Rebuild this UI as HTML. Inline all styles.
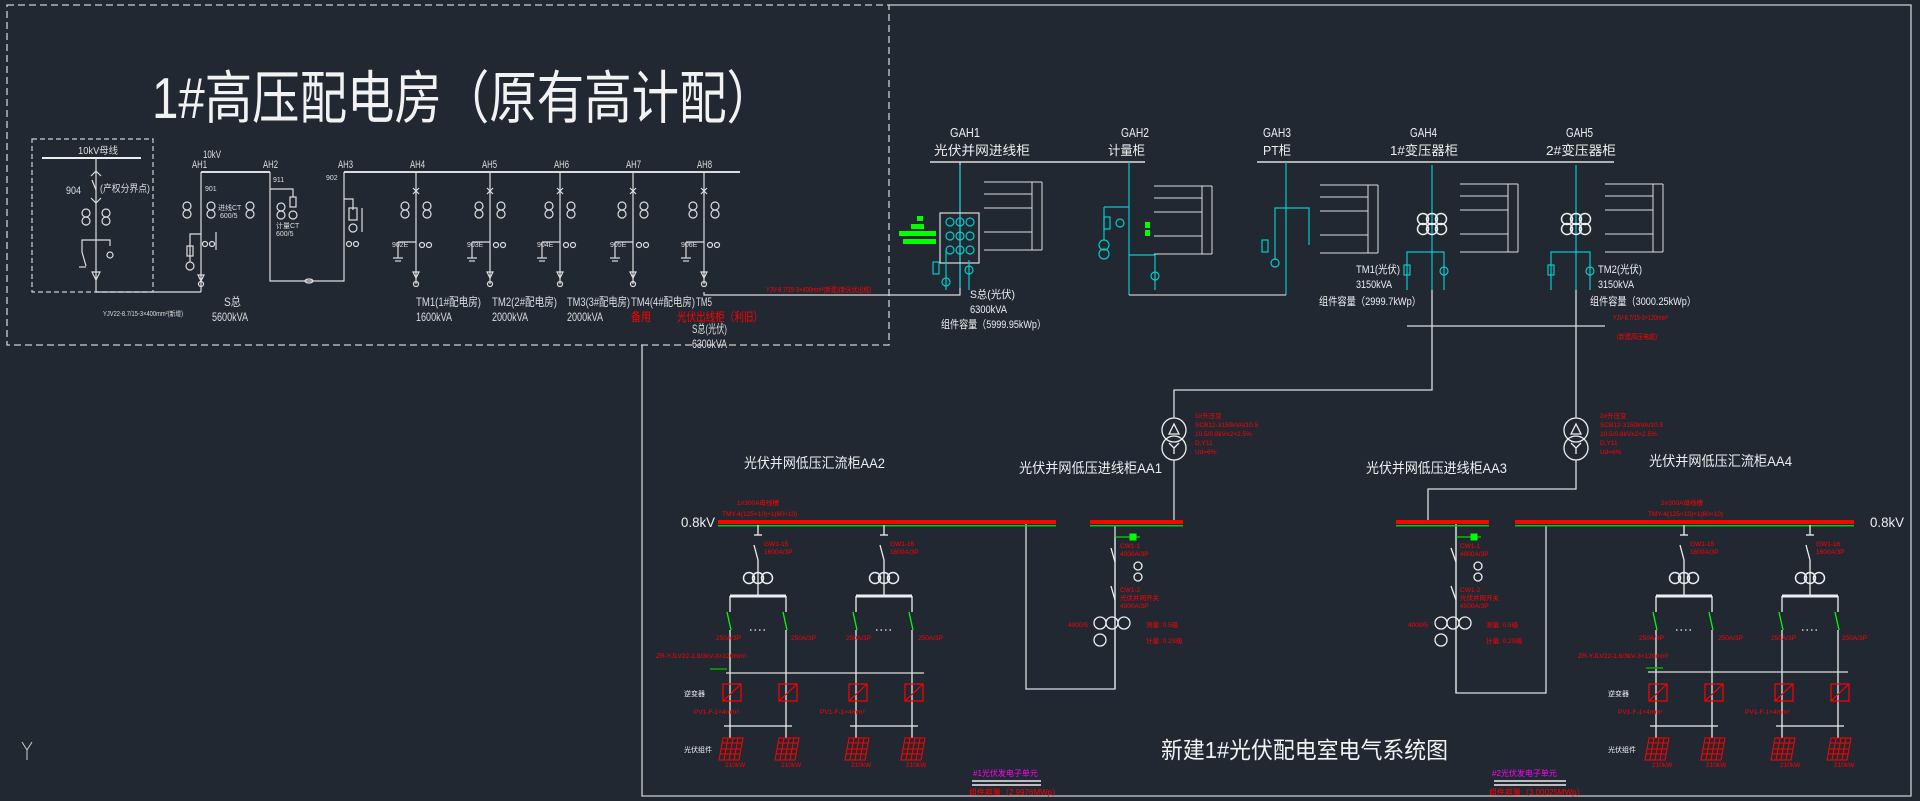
<!DOCTYPE html>
<html><head><meta charset="utf-8"><style>
html,body{margin:0;padding:0;background:#222831;}
svg{display:block}
text{font-family:"Liberation Sans","Noto Sans CJK SC",sans-serif;}
</style></head><body>
<svg width="1920" height="801" viewBox="0 0 1920 801" xmlns="http://www.w3.org/2000/svg">
<defs>
<g id="ct"><circle cx="0" cy="0" r="4" fill="none" stroke="#ddd" stroke-width="1.2"/><circle cx="0" cy="8" r="4" fill="none" stroke="#ddd" stroke-width="1.2"/></g>
<g id="ct3"><circle cx="-9" cy="0" r="5.5" fill="none" stroke="#eee" stroke-width="1.5"/><circle cx="0" cy="0" r="5.5" fill="none" stroke="#eee" stroke-width="1.5"/><circle cx="9" cy="0" r="5.5" fill="none" stroke="#eee" stroke-width="1.5"/></g>
<g id="panel" stroke="#f00" fill="none" stroke-width="1"><polygon points="-7,0 13,0 9,22 -11,22"/><line x1="-8" y1="5" x2="12" y2="5"/><line x1="-9" y1="11" x2="11" y2="11"/><line x1="-10" y1="16" x2="10" y2="16"/><line x1="-2" y1="0" x2="-6" y2="22"/><line x1="3" y1="0" x2="-1" y2="22"/><line x1="8" y1="0" x2="4" y2="22"/></g>
<g id="acdc" stroke="#f00" fill="none" stroke-width="1.2"><rect x="-9" y="0" width="18" height="17"/><line x1="-9" y1="17" x2="9" y2="0"/></g>
<g id="hvf" stroke="#ddd" fill="none" stroke-width="1.2">
 <line x1="0" y1="172" x2="0" y2="284"/>
 <line x1="-3" y1="188" x2="3" y2="194"/><line x1="3" y1="188" x2="-3" y2="194"/>
 <use href="#ct" x="-11" y="206"/><use href="#ct" x="11" y="206"/>
 <line x1="-18" y1="242" x2="0" y2="242"/><line x1="-18" y1="242" x2="-18" y2="258"/><line x1="-23" y1="258" x2="-13" y2="258"/><line x1="-21" y1="261" x2="-15" y2="261"/>
 <circle cx="6" cy="245" r="2.5"/><circle cx="13" cy="245" r="2.5"/>
 <path d="M-3,272 L3,272 L0,278 Z"/><circle cx="0" cy="284" r="2.5"/>
</g>
<g id="lvcol" stroke="#eee" fill="none" stroke-width="1.3">
 <line x1="0" y1="525" x2="0" y2="535"/><line x1="-4" y1="535" x2="4" y2="535"/>
 <line x1="-4" y1="545" x2="0" y2="560"/><line x1="0" y1="560" x2="0" y2="596"/>
 <use href="#ct3" x="0" y="578"/>
 <line x1="-28" y1="596" x2="28" y2="596" stroke-width="3"/>
 <line x1="-28" y1="596" x2="-28" y2="612"/><line x1="28" y1="596" x2="28" y2="612"/>
 <line x1="-31" y1="612" x2="-27" y2="630" stroke="#0f0"/><line x1="25" y1="612" x2="29" y2="630" stroke="#0f0"/>
 <line x1="-28" y1="630" x2="-28" y2="738"/><line x1="28" y1="630" x2="28" y2="738"/>
 <line x1="-8" y1="630" x2="10" y2="630" stroke-dasharray="1.5,3"/>
 <use href="#acdc" x="-26" y="684"/><use href="#acdc" x="30" y="684"/>
 <line x1="-34" y1="726" x2="34" y2="726"/>
 <use href="#panel" x="-28" y="738"/><use href="#panel" x="28" y="738"/>
</g>
<g id="tx" stroke="#eee" fill="none" stroke-width="1.3"><circle cx="0" cy="0" r="12"/><circle cx="0" cy="18" r="12"/><path d="M-5,4 L0,-6 L5,4 Z"/><path d="M0,18 L0,24 M0,18 L-5,13 M0,18 L5,13"/></g>
<g id="tbl" stroke="#ddd" fill="none" stroke-width="1"><line x1="0" y1="0" x2="58" y2="0"/><line x1="58" y1="0" x2="58" y2="68"/><line x1="48" y1="0" x2="48" y2="68"/><line x1="0" y1="68" x2="58" y2="68"/><line x1="0" y1="12" x2="48" y2="12"/><line x1="0" y1="26" x2="48" y2="26"/><line x1="0" y1="50" x2="48" y2="50"/></g>
</defs>

<rect x="7" y="5" width="882" height="340" fill="none" stroke="#cfcfcf" stroke-width="1.3" stroke-dasharray="7,4"/>
<polyline points="889,5 1911,5 1911,796 642,796 642,345" fill="none" stroke="#cfcfcf" stroke-width="1.3"/>

<text x="152" y="118" font-size="52" fill="#f2f2f2" textLength="622" lengthAdjust="spacingAndGlyphs" transform="translate(0,-12) scale(1,1.1)">1#高压配电房（原有高计配）</text>

<rect x="32" y="139" width="121" height="153" fill="none" stroke="#cfcfcf" stroke-width="1.2" stroke-dasharray="5,3"/>
<line x1="42" y1="158" x2="141" y2="158" stroke="#eee" stroke-width="2"/>
<text x="78" y="154" font-size="10" fill="#ddd" textLength="40" lengthAdjust="spacingAndGlyphs">10kV母线</text>
<g stroke="#ddd" fill="none" stroke-width="1.2">
<line x1="96" y1="158" x2="96" y2="292"/><line x1="96" y1="292" x2="201" y2="292"/>
<path d="M91,176 L96,171 L101,176 M91,198 L96,203 L101,198"/>
<line x1="92" y1="180" x2="96" y2="190"/>
<use href="#ct" x="86" y="213"/><use href="#ct" x="106" y="213"/>
<polyline points="82,252 82,240 110,240 110,246"/><line x1="82" y1="252" x2="86" y2="266"/><line x1="79" y1="267" x2="86" y2="267"/><circle cx="110" cy="255" r="3"/>
<path d="M92,272 L100,272 L96,280 Z"/>
</g>
<text x="66" y="194" font-size="11" fill="#ddd" textLength="15" lengthAdjust="spacingAndGlyphs">904</text>
<text x="100" y="192" font-size="10" fill="#ddd" textLength="50" lengthAdjust="spacingAndGlyphs">(产权分界点)</text>

<line x1="201" y1="172" x2="270" y2="172" stroke="#ddd" stroke-width="2"/>
<line x1="344" y1="172" x2="740" y2="172" stroke="#ddd" stroke-width="2"/>
<text x="203" y="158" font-size="11" fill="#ddd" textLength="18" lengthAdjust="spacingAndGlyphs">10kV</text>
<g font-size="11" fill="#ddd">
<text x="192" y="168" textLength="15" lengthAdjust="spacingAndGlyphs">AH1</text><text x="263" y="168" textLength="15" lengthAdjust="spacingAndGlyphs">AH2</text><text x="338" y="168" textLength="15" lengthAdjust="spacingAndGlyphs">AH3</text><text x="410" y="168" textLength="15" lengthAdjust="spacingAndGlyphs">AH4</text><text x="482" y="168" textLength="15" lengthAdjust="spacingAndGlyphs">AH5</text><text x="554" y="168" textLength="15" lengthAdjust="spacingAndGlyphs">AH6</text><text x="626" y="168" textLength="15" lengthAdjust="spacingAndGlyphs">AH7</text><text x="697" y="168" textLength="15" lengthAdjust="spacingAndGlyphs">AH8</text>
</g>
<g stroke="#ddd" fill="none" stroke-width="1.2">
<line x1="201" y1="172" x2="201" y2="292"/>
<use href="#ct" x="187" y="206"/><use href="#ct" x="211" y="206"/><use href="#ct" x="250" y="206"/>
<polyline points="190,262 190,234 201,234"/><rect x="187" y="246" width="6" height="10"/><circle cx="190" cy="266" r="4"/>
<line x1="216" y1="232" x2="216" y2="250"/><circle cx="205" cy="244" r="2.5"/><circle cx="212" cy="244" r="2.5"/>
<path d="M198,275 L204,275 L201,281 Z"/><circle cx="201" cy="284" r="2.5"/>
<polyline points="270,172 270,281 344,281 344,172"/><ellipse cx="309" cy="281" rx="4" ry="2"/>
<polyline points="270,189 293,189 293,197"/><rect x="290" y="197" width="6" height="10"/><circle cx="293" cy="215" r="4"/><use href="#ct" x="281" y="207"/>
<polyline points="344,199 353,199 353,210"/><rect x="349" y="208" width="8" height="12"/><circle cx="353" cy="228" r="4"/><line x1="362" y1="208" x2="362" y2="232"/>
<circle cx="349" cy="244" r="2.5"/><circle cx="356" cy="244" r="2.5"/>
</g>
<use href="#hvf" x="416"/><use href="#hvf" x="490"/><use href="#hvf" x="560"/><use href="#hvf" x="633"/><use href="#hvf" x="704"/>
<g font-size="7" fill="#ddd"><text x="205" y="191">901</text><text x="273" y="182">911</text><text x="326" y="180">902</text><text x="218" y="210">进线CT</text><text x="220" y="218">600/5</text><text x="276" y="228">计量CT</text><text x="276" y="236">600/5</text><text x="392" y="247">902E</text><text x="467" y="247">903E</text><text x="537" y="247">904E</text><text x="610" y="247">905E</text><text x="681" y="247">906E</text></g>
<g font-size="12" fill="#ddd" font-family="Liberation Serif,Noto Serif CJK SC,serif" lengthAdjust="spacingAndGlyphs">
<text x="224" y="306" textLength="17" lengthAdjust="spacingAndGlyphs">S总</text><text x="212" y="321" textLength="36" lengthAdjust="spacingAndGlyphs">5600kVA</text>
<text x="416" y="306" textLength="65" lengthAdjust="spacingAndGlyphs">TM1(1#配电房)</text><text x="416" y="321" textLength="36" lengthAdjust="spacingAndGlyphs">1600kVA</text>
<text x="492" y="306" textLength="65" lengthAdjust="spacingAndGlyphs">TM2(2#配电房)</text><text x="492" y="321" textLength="36" lengthAdjust="spacingAndGlyphs">2000kVA</text>
<text x="567" y="306" textLength="63" lengthAdjust="spacingAndGlyphs">TM3(3#配电房)</text><text x="567" y="321" textLength="36" lengthAdjust="spacingAndGlyphs">2000kVA</text>
<text x="631" y="306" textLength="64" lengthAdjust="spacingAndGlyphs">TM4(4#配电房)</text><text x="696" y="306" textLength="16" lengthAdjust="spacingAndGlyphs">TM5</text>
<text x="631" y="321" fill="#f00" textLength="20" lengthAdjust="spacingAndGlyphs">备用</text><text x="677" y="321" fill="#f00" textLength="86" lengthAdjust="spacingAndGlyphs">光伏出线柜（利旧）</text>
<text x="692" y="333" textLength="35" lengthAdjust="spacingAndGlyphs">S总(光伏)</text><text x="692" y="348" textLength="35" lengthAdjust="spacingAndGlyphs">6300kVA</text>
</g>
<text x="103" y="316" font-size="7" fill="#ddd" textLength="80" lengthAdjust="spacingAndGlyphs">YJV22-8.7/15-3×400mm²(新增)</text>
<text x="766" y="292" font-size="7" fill="#f00" textLength="105" lengthAdjust="spacingAndGlyphs">YJV-8.7/15-3×400mm²(新建)(新光伏出线)</text>
<polyline points="704,292 704,295 960,295 960,162" fill="none" stroke="#ddd" stroke-width="1.2"/>
<line x1="642" y1="345" x2="642" y2="360" stroke="#ddd"/>

<line x1="930" y1="162" x2="1145" y2="162" stroke="#ddd" stroke-width="1.6"/>
<line x1="1257" y1="162" x2="1614" y2="162" stroke="#ddd" stroke-width="1.6"/>
<g font-size="13" fill="#eee" font-family="Liberation Serif,Noto Serif CJK SC,serif">
<text x="950" y="137" textLength="30" lengthAdjust="spacingAndGlyphs">GAH1</text><text x="934" y="155" textLength="96" lengthAdjust="spacingAndGlyphs">光伏并网进线柜</text>
<text x="1121" y="137" textLength="28" lengthAdjust="spacingAndGlyphs">GAH2</text><text x="1108" y="155" textLength="37" lengthAdjust="spacingAndGlyphs">计量柜</text>
<text x="1263" y="137" textLength="28" lengthAdjust="spacingAndGlyphs">GAH3</text><text x="1263" y="155" textLength="28" lengthAdjust="spacingAndGlyphs">PT柜</text>
<text x="1410" y="137" textLength="27" lengthAdjust="spacingAndGlyphs">GAH4</text><text x="1390" y="155" textLength="68" lengthAdjust="spacingAndGlyphs">1#变压器柜</text>
<text x="1566" y="137" textLength="27" lengthAdjust="spacingAndGlyphs">GAH5</text><text x="1546" y="155" textLength="70" lengthAdjust="spacingAndGlyphs">2#变压器柜</text>
</g>
<g stroke="#0cc" fill="none" stroke-width="1.2">
<line x1="960" y1="165" x2="960" y2="288"/>
<rect x="940" y="213" width="39" height="50" stroke="#ddd"/>
<circle cx="950" cy="222" r="4"/><circle cx="960" cy="222" r="4"/><circle cx="970" cy="222" r="4"/><circle cx="950" cy="236" r="4"/><circle cx="960" cy="236" r="4"/><circle cx="970" cy="236" r="4"/><circle cx="950" cy="250" r="4"/><circle cx="960" cy="250" r="4"/><circle cx="970" cy="250" r="4"/>
<line x1="946" y1="250" x2="946" y2="290"/><rect x="933" y="262" width="6" height="12"/><circle cx="946" cy="282" r="4"/><line x1="969" y1="260" x2="969" y2="290"/><circle cx="969" cy="270" r="4"/>
<line x1="1129" y1="162" x2="1129" y2="295"/><rect x="1104" y="217" width="6" height="12"/><circle cx="1120" cy="223" r="4"/><circle cx="1104" cy="245" r="5"/><circle cx="1104" cy="254" r="5"/><line x1="1104" y1="207" x2="1104" y2="240"/><line x1="1104" y1="207" x2="1129" y2="207"/>
<polyline points="1129,255 1155,255 1155,290"/><circle cx="1155" cy="276" r="4"/>
<line x1="1286" y1="162" x2="1286" y2="295"/><polyline points="1275,260 1275,208 1309,208 1309,245"/><rect x="1262" y="240" width="6" height="12"/><circle cx="1275" cy="263" r="4"/>
<line x1="1432" y1="165" x2="1432" y2="290"/><line x1="1576" y1="165" x2="1576" y2="290"/>
<polyline points="1407,290 1407,252 1444,252 1444,290"/><polyline points="1551,290 1551,252 1590,252 1590,290"/>
<rect x="1404" y="265" width="6" height="10"/><circle cx="1444" cy="271" r="4"/><rect x="1548" y="265" width="6" height="10"/><circle cx="1590" cy="271" r="4"/>
</g>
<g stroke="#eee" fill="none"><line x1="1129" y1="295" x2="1286" y2="295"/></g>
<use href="#ct3" x="1432" y="219"/><use href="#ct3" x="1432" y="229"/><use href="#ct3" x="1576" y="219"/><use href="#ct3" x="1576" y="229"/>
<g fill="#0f0"><rect x="917" y="216" width="6" height="5"/><rect x="911" y="224" width="13" height="5"/><rect x="899" y="231" width="37" height="5"/><rect x="903" y="239" width="33" height="5"/><rect x="1145" y="222" width="5" height="6"/><rect x="1145" y="230" width="5" height="6"/></g>
<use href="#tbl" x="984" y="182"/><use href="#tbl" x="1154" y="186"/><use href="#tbl" x="1320" y="185"/><use href="#tbl" x="1460" y="184"/><use href="#tbl" x="1605" y="184"/>
<g font-size="11" fill="#eee" font-family="Liberation Serif,Noto Serif CJK SC,serif">
<text x="970" y="298" textLength="45" lengthAdjust="spacingAndGlyphs">S总(光伏)</text><text x="970" y="313" textLength="37" lengthAdjust="spacingAndGlyphs">6300kVA</text><text x="941" y="328" textLength="105" lengthAdjust="spacingAndGlyphs">组件容量（5999.95kWp）</text>
<text x="1356" y="273" textLength="44" lengthAdjust="spacingAndGlyphs">TM1(光伏)</text><text x="1356" y="288" textLength="36" lengthAdjust="spacingAndGlyphs">3150kVA</text><text x="1319" y="305" textLength="102" lengthAdjust="spacingAndGlyphs">组件容量（2999.7kWp）</text>
<text x="1598" y="273" textLength="44" lengthAdjust="spacingAndGlyphs">TM2(光伏)</text><text x="1598" y="288" textLength="36" lengthAdjust="spacingAndGlyphs">3150kVA</text><text x="1590" y="305" textLength="106" lengthAdjust="spacingAndGlyphs">组件容量（3000.25kWp）</text>
</g>
<g font-size="7" fill="#f00"><text x="1613" y="320" textLength="55" lengthAdjust="spacingAndGlyphs">YJV-8.7/15-3×120mm²</text><text x="1617" y="339" textLength="40" lengthAdjust="spacingAndGlyphs">(新建高压电缆)</text></g>
<line x1="1407" y1="326" x2="1605" y2="326" stroke="#ddd" stroke-width="1.2"/>

<g stroke="#ddd" fill="none" stroke-width="1.3">
<polyline points="1432,290 1432,390 1174,390 1174,418"/>
<line x1="1576" y1="290" x2="1576" y2="418"/>
<line x1="1174" y1="460" x2="1174" y2="522"/>
<polyline points="1576,460 1576,489 1428,489 1428,522"/>
<polyline points="1026,522 1026,689 1115,689 1115,537"/>
<polyline points="1456,522 1456,693 1546,693 1546,525"/>
<line x1="1115" y1="525" x2="1115" y2="689"/><line x1="1456" y1="525" x2="1456" y2="693"/>
</g>
<use href="#tx" x="1174" y="430"/><use href="#tx" x="1576" y="430"/>
<g font-size="6.5" fill="#f00"><text x="1195" y="418">1#升压变</text><text x="1195" y="427">SCB12-3150kVA/10.5</text><text x="1195" y="436">10.5/0.8kV±2×2.5%</text><text x="1195" y="445">D,Y11</text><text x="1195" y="454">Ud=6%</text>
<text x="1600" y="418">2#升压变</text><text x="1600" y="427">SCB12-3150kVA/10.5</text><text x="1600" y="436">10.5/0.8kV±2×2.5%</text><text x="1600" y="445">D,Y11</text><text x="1600" y="454">Ud=6%</text></g>

<g font-size="14" fill="#eee" font-family="Liberation Serif,Noto Serif CJK SC,serif">
<text x="744" y="468" textLength="141" lengthAdjust="spacingAndGlyphs">光伏并网低压汇流柜AA2</text>
<text x="1019" y="473" textLength="143" lengthAdjust="spacingAndGlyphs">光伏并网低压进线柜AA1</text>
<text x="1366" y="473" textLength="141" lengthAdjust="spacingAndGlyphs">光伏并网低压进线柜AA3</text>
<text x="1649" y="466" textLength="143" lengthAdjust="spacingAndGlyphs">光伏并网低压汇流柜AA4</text>
<text x="681" y="527" textLength="34" lengthAdjust="spacingAndGlyphs">0.8kV</text><text x="1870" y="527" textLength="34" lengthAdjust="spacingAndGlyphs">0.8kV</text>
</g>
<g fill="#f00"><rect x="718" y="520" width="338" height="4"/><rect x="1090" y="520" width="93" height="4"/><rect x="1396" y="520" width="93" height="4"/><rect x="1515" y="520" width="339" height="4"/></g>
<g fill="#0c0"><rect x="718" y="525" width="338" height="1.5"/><rect x="1090" y="525" width="93" height="1.5"/><rect x="1396" y="525" width="93" height="1.5"/><rect x="1515" y="525" width="339" height="1.5"/></g>
<g font-size="6.5" fill="#f00"><text x="737" y="505">1#300A母线槽</text><text x="722" y="516">TMY-4(125×10)+1(60×10)</text><text x="1661" y="505">2#300A母线槽</text><text x="1648" y="516">TMY-4(125×10)+1(60×10)</text></g>
<use href="#lvcol" x="758"/><use href="#lvcol" x="884"/><use href="#lvcol" x="1684"/><use href="#lvcol" x="1810"/>
<g stroke="#ddd" stroke-width="1.2"><line x1="726" y1="673" x2="924" y2="673"/><line x1="1648" y1="672" x2="1848" y2="672"/></g>
<g stroke="#0a0" stroke-width="1.5"><line x1="710" y1="669" x2="727" y2="669"/><line x1="1646" y1="668" x2="1663" y2="668"/></g>
<g font-size="6.5" fill="#f00">
<text x="764" y="546">GW1-15</text><text x="764" y="554">1600A/3P</text><text x="890" y="546">GW1-16</text><text x="890" y="554">1600A/3P</text>
<text x="1690" y="546">GW1-15</text><text x="1690" y="554">1600A/3P</text><text x="1816" y="546">GW1-16</text><text x="1816" y="554">1600A/3P</text>
<text x="716" y="640">250A/3P</text><text x="791" y="640">250A/3P</text><text x="846" y="640">250A/3P</text><text x="918" y="640">250A/3P</text>
<text x="1639" y="640">250A/3P</text><text x="1718" y="640">250A/3P</text><text x="1771" y="640">250A/3P</text><text x="1842" y="640">250A/3P</text>
<text x="656" y="658">ZR-YJLV22-1.8/3kV-3×120mm²</text><text x="1578" y="658">ZR-YJLV22-1.8/3kV-3×120mm²</text>
<text x="694" y="714">PV1-F-1×4mm²</text><text x="820" y="714">PV1-F-1×4mm²</text><text x="1618" y="714">PV1-F-1×4mm²</text><text x="1745" y="714">PV1-F-1×4mm²</text>
<text x="725" y="767">210kW</text><text x="781" y="767">210kW</text><text x="851" y="767">210kW</text><text x="906" y="767">210kW</text>
<text x="1652" y="767">210kW</text><text x="1706" y="767">210kW</text><text x="1780" y="767">210kW</text><text x="1834" y="767">210kW</text>
<text x="1120" y="548">CW1-1</text><text x="1120" y="556">4000A/3P</text><text x="1120" y="592">CW1-2</text><text x="1120" y="600">光伏并网开关</text><text x="1120" y="608">4000A/3P</text>
<text x="1068" y="627">4000/5</text><text x="1146" y="627">测量: 0.5级</text><text x="1146" y="643">计量: 0.2S级</text>
<text x="1460" y="548">CW1-1</text><text x="1460" y="556">4000A/3P</text><text x="1460" y="592">CW1-2</text><text x="1460" y="600">光伏并网开关</text><text x="1460" y="608">4000A/3P</text>
<text x="1408" y="627">4000/5</text><text x="1486" y="627">测量: 0.5级</text><text x="1486" y="643">计量: 0.2S级</text>
</g>
<g font-size="7" fill="#eee"><text x="684" y="752">光伏组件</text><text x="1608" y="752">光伏组件</text><text x="684" y="696">逆变器</text><text x="1608" y="696">逆变器</text></g>
<g stroke="#eee" fill="none" stroke-width="1.3">
<line x1="1111" y1="548" x2="1115" y2="562"/><line x1="1111" y1="586" x2="1115" y2="600"/>
<circle cx="1138" cy="566" r="4"/><circle cx="1138" cy="577" r="4"/>
<circle cx="1100" cy="623" r="6"/><circle cx="1112" cy="623" r="6"/><circle cx="1124" cy="623" r="6"/><circle cx="1100" cy="640" r="6"/>
<line x1="1451" y1="548" x2="1456" y2="562"/><line x1="1451" y1="586" x2="1456" y2="600"/>
<circle cx="1478" cy="566" r="4"/><circle cx="1478" cy="577" r="4"/>
<circle cx="1441" cy="623" r="6"/><circle cx="1453" cy="623" r="6"/><circle cx="1465" cy="623" r="6"/><circle cx="1441" cy="640" r="6"/>
</g>
<g stroke="#0f0" fill="#0f0"><line x1="1115" y1="537" x2="1140" y2="537"/><rect x="1130" y="534" width="6" height="6"/><line x1="1456" y1="537" x2="1481" y2="537"/><rect x="1471" y="534" width="6" height="6"/></g>

<text x="1161" y="758" font-size="23" fill="#f2f2f2" textLength="287" lengthAdjust="spacingAndGlyphs" font-family="Liberation Serif,Noto Serif CJK SC,serif">新建1#光伏配电室电气系统图</text>
<text x="973" y="776" font-size="8" fill="#f0f">#1光伏发电子单元</text>
<text x="1492" y="776" font-size="8" fill="#f0f">#2光伏发电子单元</text>
<g stroke="#eee" stroke-width="1.5"><line x1="972" y1="781" x2="1041" y2="781"/><line x1="972" y1="785" x2="1041" y2="785"/><line x1="1494" y1="781" x2="1566" y2="781"/><line x1="1494" y1="785" x2="1566" y2="785"/></g>
<text x="969" y="795" font-size="8" fill="#f00">组件容量（2.9976MWp）</text>
<text x="1489" y="795" font-size="8" fill="#f00">组件容量（3.00025MWp）</text>

<g stroke="#ccc" stroke-width="1" fill="none"><path d="M22,742 L27,750 L32,742 M27,750 L27,760"/></g>
</svg>
</body></html>
